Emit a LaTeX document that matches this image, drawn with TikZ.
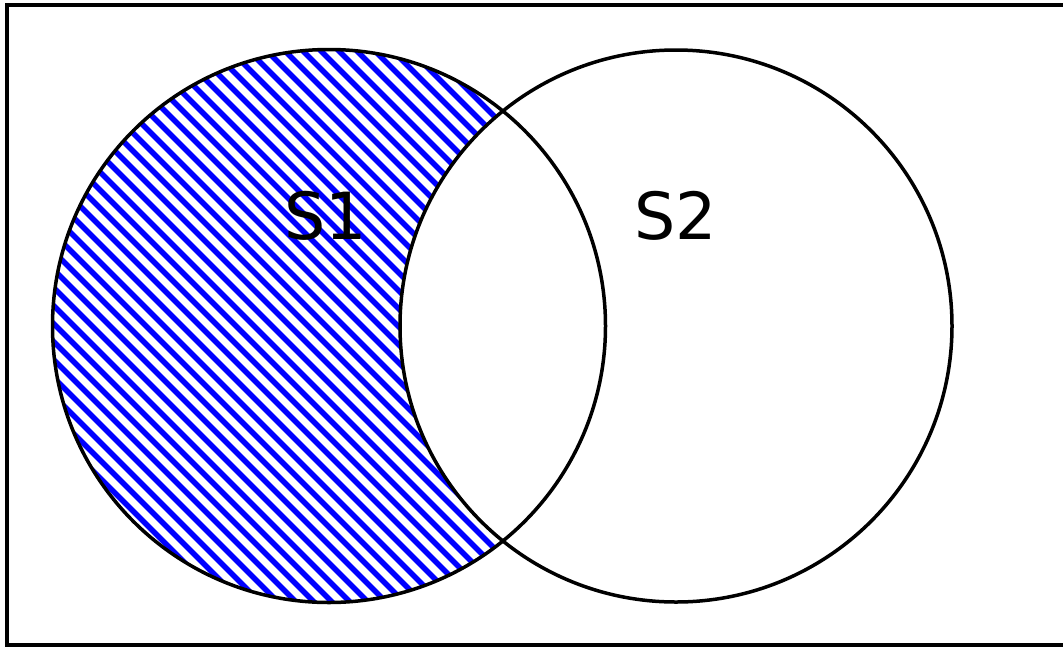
\documentclass[tikz,border=0pt]{standalone}
\usepackage{fontspec}
\setmainfont{DejaVu Sans}
\begin{document}
\begin{tikzpicture}[x=1pt,y=-1pt,
  setcircle/.style={draw=black,line width=3.5pt},
  hatch/.style={draw=blue,line width=5.5pt},
  label/.style={font=\fontsize{65}{65}\selectfont,inner sep=0pt}]
\useasboundingbox (0,0) rectangle (1063,646);
\fill[white] (0,0) rectangle (1063,646);
\draw[line width=4pt] (7,4.5) rectangle (1075,644.5);
\coordinate (c1) at (329,326);
\coordinate (c2) at (676,326);
\begin{scope}[even odd rule]
  \clip (c1) circle (276.5);
  \clip (-100,-100) rectangle (1200,800) (c2) circle (276);
  \foreach \c in {-702,-684,...,700} {
    \draw[hatch] (\c,0) -- (\c+700,700);
  }
\end{scope}
\node[setcircle,circle,minimum size=553pt,inner sep=0pt] (s1) at (c1) {};
\node[setcircle,circle,minimum size=552pt,inner sep=0pt] (s2) at (c2) {};
\node[label] (t1) at (326,216) {S1};
\node[label] (t2) at (676,216) {S2};
\end{tikzpicture}
\end{document}
